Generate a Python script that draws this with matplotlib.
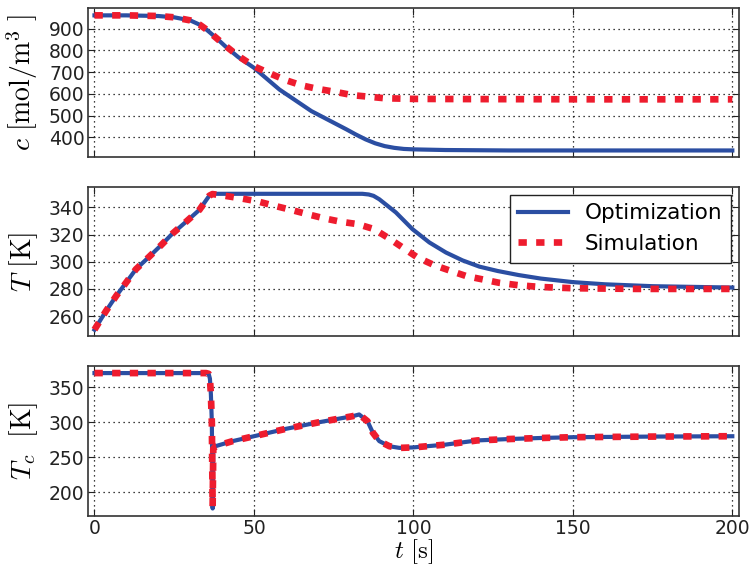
import matplotlib
matplotlib.use('Agg')
import matplotlib.pyplot as plt

# concentration c [mol/m3]
t_c_opt = [0, 10, 20, 25, 30, 33, 35, 37, 39, 41, 45, 50, 58, 68, 79, 82, 85, 88, 91, 94, 97, 100, 110, 130, 160, 200]
c_opt = [961, 961, 958, 952, 938, 918, 897, 872, 846, 819, 770, 720, 620, 521, 437, 413, 391, 373, 360, 352, 347,
         345, 342, 340, 340, 340]
t_c_sim = [0, 10, 20, 25, 30, 33, 35, 37, 39, 41, 45, 50, 55, 60, 65, 70, 76, 81, 86, 91, 100, 120, 160, 200]
c_sim = [961, 961, 958, 952, 938, 918, 897, 872, 847, 822, 775, 727, 694, 663, 639, 623, 608, 594, 587, 580, 577,
         576, 575, 575]

# temperature T [K]
t_T_opt = [0, 3.6, 6.8, 9.9, 13, 17.2, 20.9, 24.5, 28.7, 32.9, 36, 37, 84, 86, 87.5, 89.3, 94.5, 99.7, 105, 110.2,
           115.4, 120.7, 126.4, 133, 140, 150, 160, 175, 200]
T_opt = [250, 263.7, 274.8, 284.6, 294.5, 303.8, 312.2, 320.8, 329.4, 338.2, 348.6, 350, 350, 349.5, 348.5, 346,
         336.3, 324, 314.2, 306.8, 301, 296.4, 293.2, 290.2, 287.6, 285, 283.4, 282, 281]
t_T_sim = [0, 3.6, 6.8, 9.9, 13, 17.2, 20.9, 24.5, 28.7, 32.9, 36, 37, 41, 46, 51.2, 56.4, 61.6, 66.8, 72.1,
           77.3, 82.5, 87.7, 92.4, 96.6, 101.3, 106.6, 111.8, 116.5, 121.7, 126.9, 133, 140, 150, 170, 200]
T_sim = [250, 263.7, 274.8, 284.6, 294.5, 303.8, 312.2, 320.8, 329.4, 338.2, 348.6, 349.8, 348.5, 346.6, 344.4,
         341.2, 338.2, 335, 331.9, 329.4, 327.7, 324, 317.1, 310.5, 303.1, 297.4, 293.2, 289.5, 287, 284.5, 282.7,
         281.4, 280.5, 280, 280]

# coolant temperature Tc [K]
t_Tc_opt = [0, 35, 35.8, 36.2, 36.5, 36.8, 37.05, 37.25, 38.1, 43.3, 50, 60, 70.5, 81, 83, 85.6, 87.3, 89.3,
            92.5, 95.6, 99.8, 110, 120, 130, 140, 150, 175, 200]
Tc_opt = [370, 370, 369, 362, 340, 300, 177, 262, 266, 273, 280, 290.5, 300, 308.6, 311, 301.4, 285, 273,
          265.7, 263.4, 264, 268, 274, 276, 277.5, 278.6, 279.5, 280]
t_Tc_sim = [0, 35, 35.8, 36.2, 36.5, 36.8, 37.05, 37.25, 38.1, 43.3, 50, 60, 70.5, 81, 83, 85.6, 87.3, 89.3,
            92.5, 95.6, 99.8, 110, 120, 130, 140, 150, 175, 200]
Tc_sim = [370, 370, 369, 362, 340, 300, 180, 262, 266, 273, 280, 290.5, 300, 308.6, 311, 301.4, 285, 273,
          265.7, 263.4, 264, 268, 274, 276, 277.5, 278.6, 279.5, 280]

blue = '#2b4ea2'
red = '#ee1c2e'

plt.rcParams['mathtext.fontset'] = 'cm'
plt.rcParams['font.family'] = 'DejaVu Sans'

fig, axes = plt.subplots(3, 1, sharex=True, figsize=(7.53, 5.69), dpi=100)
fig.subplots_adjust(left=0.117, right=0.981, top=0.986, bottom=0.094, hspace=0.198)

series = [
    (t_c_opt, c_opt, t_c_sim, c_sim),
    (t_T_opt, T_opt, t_T_sim, T_sim),
    (t_Tc_opt, Tc_opt, t_Tc_sim, Tc_sim),
]
ylabels = [r'$c\ [\mathrm{mol/m}^3\ ]$', r'$T\ [\mathrm{K}]$', r'$T_c\ \ [\mathrm{K}]$']
ylims = [(308, 995), (245, 355), (167, 380)]
yticks = [[400, 500, 600, 700, 800, 900], [260, 280, 300, 320, 340], [200, 250, 300, 350]]

for ax, (to, yo, ts, ys), lab, yl, yt in zip(axes, series, ylabels, ylims, yticks):
    ax.plot(to, yo, color=blue, lw=3.0, label='Optimization', solid_joinstyle='round')
    ax.plot(ts, ys, color=red, lw=4.8, linestyle=(0, (1.25, 1.4)), label='Simulation')
    ax.set_xlim(-2, 202)
    ax.set_ylim(*yl)
    ax.set_yticks(yt)
    ax.set_xticks([0, 50, 100, 150, 200])
    ax.grid(True, linestyle=(0, (1, 3)), color='black', lw=0.9)
    ax.tick_params(direction='in', top=True, right=True, length=5, pad=2.5, labelsize=13.5,
                   colors='#222222', labelcolor='#222222')
    for s in ax.spines.values():
        s.set_color('#333333')
        s.set_linewidth(1.2)
    ax.set_ylabel(lab, fontsize=20)
    ax.yaxis.set_label_coords(-0.074, 0.5)

axes[1].legend(loc='upper right', fontsize=15.5, fancybox=False, edgecolor='#222222', framealpha=1,
               borderaxespad=0.35, handlelength=2.3)
axes[2].set_xlabel(r'$t\ [\mathrm{s}]$', fontsize=18)
axes[2].xaxis.set_label_coords(0.5, -0.145)

plt.savefig('out.png', dpi=100)
